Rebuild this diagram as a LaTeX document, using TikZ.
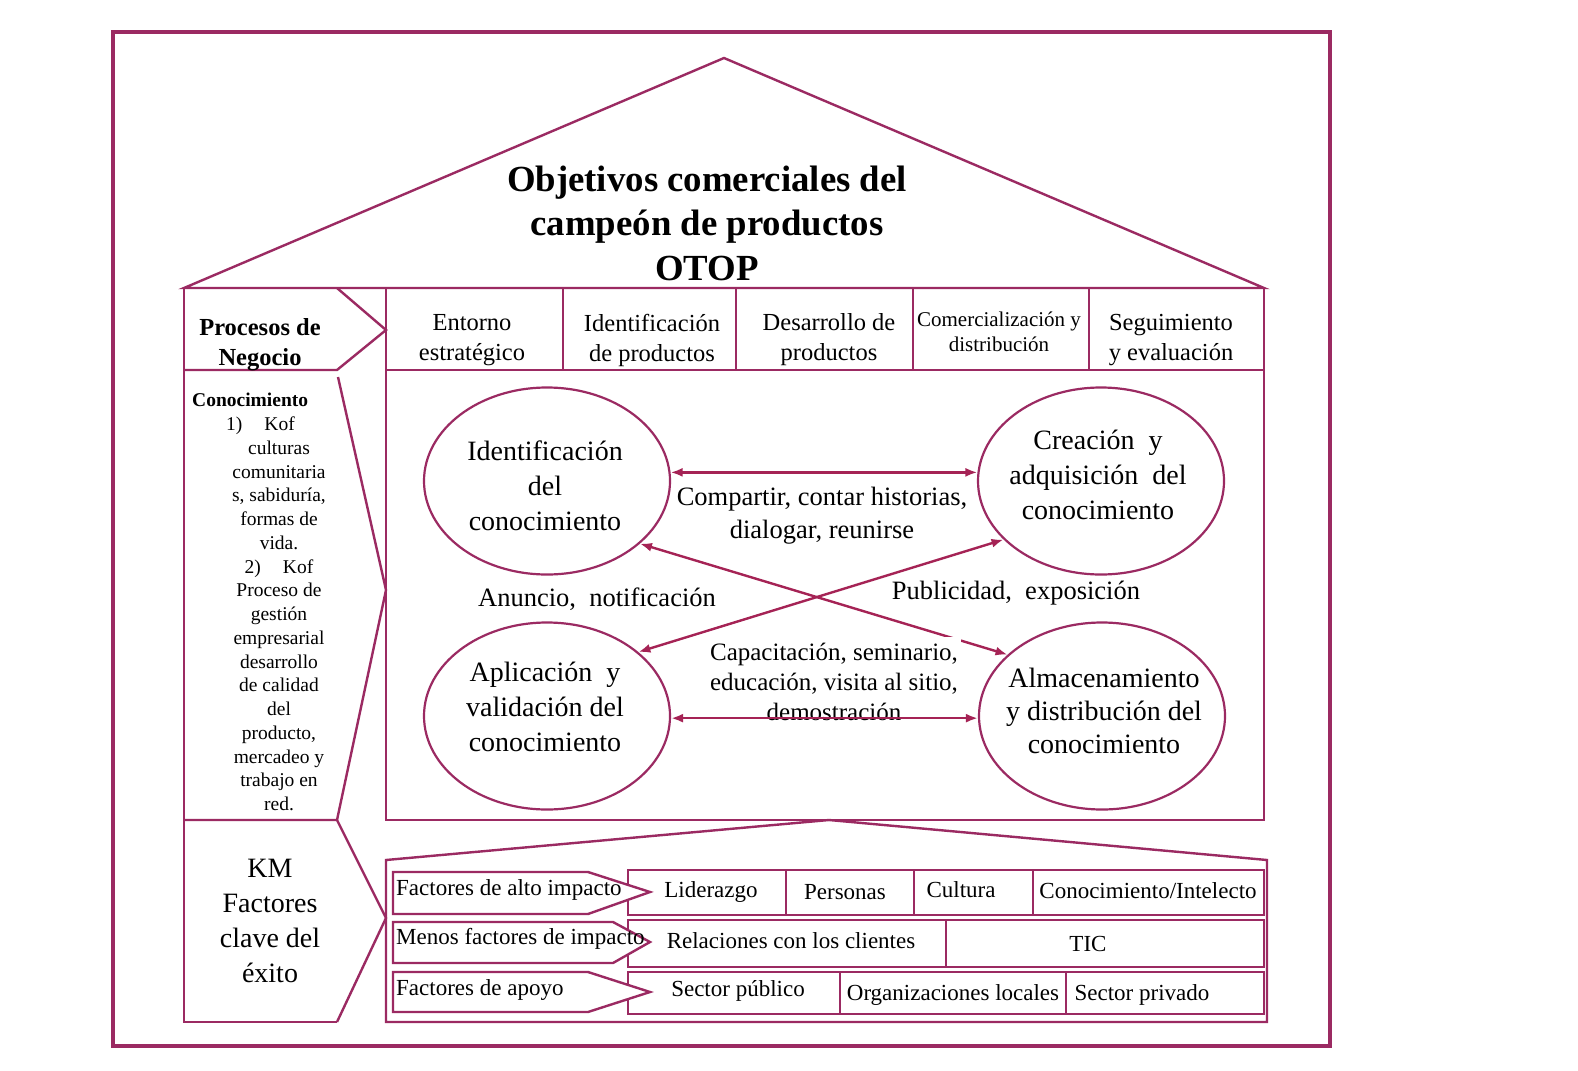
\documentclass[tikz,border=0pt]{standalone}
\usepackage{fontspec}
\setmainfont{Liberation Serif}
\usetikzlibrary{arrows.meta,shapes.geometric}
\definecolor{lc}{RGB}{155,42,98}
\definecolor{ac}{RGB}{165,35,85}
\newcommand{\fsz}[2]{\fontsize{#1}{#2}\selectfont}
\begin{document}
\begin{tikzpicture}[x=1pt,y=-1pt,
  frame/.style={draw=lc,line width=2.4pt,line join=miter},
  ell/.style={ellipse,draw=lc,line width=2.2pt,minimum width=246pt,minimum height=187pt,inner sep=0pt},
  link/.style={draw=ac,line width=2.4pt,{Latex[length=12pt,width=9pt]}-{Latex[length=12pt,width=9pt]}},
  txt/.style={inner sep=0pt,align=center},
  celltxt/.style={inner sep=0pt,align=center,font=\fsz{24.5}{30}},
  ftxt/.style={inner sep=0pt,anchor=west,font=\fsz{23}{26}},
  ctxt/.style={inner sep=0pt,font=\fsz{23}{26}},
  etxt/.style={inner sep=0pt,align=center,font=\fsz{28}{35}},
  ltxt/.style={inner sep=0pt,align=center,font=\fsz{26.5}{33}}
]
\useasboundingbox (0,0) rectangle (1578,1070);
\fill[white] (0,0) rectangle (1578,1070);
% outer frame
\draw[lc,line width=4pt] (113,32) rectangle (1330,1046);
% roof
\draw[frame] (184,288) -- (724,58) -- (1264,288) -- cycle;
% left column
\draw[frame] (184,288) -- (184,1022) -- (337,1022);
\draw[frame] (337,288) -- (386,330) -- (337,370) -- (184,370);
\draw[frame] (338,377) -- (386,590) -- (337,820) -- (184,820);
\draw[frame] (337,820) -- (386,918) -- (337,1022);
% main column
\draw[frame] (386,288) rectangle (1264,370);
\foreach \x in {563,736,913,1089} \draw[frame] (\x,288) -- (\x,370);
\draw[frame] (386,370) rectangle (1264,820);
\draw[frame] (386,860) -- (829,820) -- (1267,860) -- (1267,1022) -- (386,1022) -- cycle;
% factor rows
\draw[frame] (628,870) rectangle (1264,915);
\foreach \x in {786,914,1033} \draw[frame] (\x,870) -- (\x,915);
\draw[frame] (628,920) rectangle (1264,967);
\draw[frame] (946,920) -- (946,967);
\draw[frame] (628,972) rectangle (1264,1014);
\foreach \x in {840,1066} \draw[frame] (\x,972) -- (\x,1014);
% pentagon labels
\draw[frame,fill=white] (393,872) -- (588,872) -- (650,892) -- (588,914) -- (393,914) -- cycle;
\draw[frame,fill=white] (393,922) -- (613,922) -- (650,942) -- (613,963) -- (393,963) -- cycle;
\draw[frame,fill=white] (393,972) -- (588,972) -- (650,992) -- (588,1012) -- (393,1012) -- cycle;

% title
\node[txt,font=\bfseries\fsz{36.8}{44.5}] (title) at (707,223) {Objetivos comerciales del\\campeón de productos\\OTOP};
\node[txt,font=\bfseries\fsz{24.5}{30}] (proc) at (260,345) {Procesos de\\Negocio};
% top row
\node[celltxt] (c1) at (472,340) {Entorno\\estratégico};
\node[celltxt] (c2) at (652,340) {Identificación\\de productos};
\node[celltxt] (c3) at (829,340) {Desarrollo de\\productos};
\node[txt,font=\fsz{21}{25}] (c4) at (999,332) {Comercialización y\\distribución};
\node[celltxt] (c5) at (1171,340) {Seguimiento\\y evaluación};
% knowledge column
\node[inner sep=0pt,anchor=west,font=\bfseries\fsz{19.5}{23.75}] (kn) at (192,400) {Conocimiento};
\node[txt,font=\fsz{19.5}{23.75}] (kl) at (279,614) {1)\hspace{22pt}Kof\hspace*{37pt}\\culturas\\comunitaria\\s, sabiduría,\\formas de\\vida.\\2)\hspace{22pt}Kof\hspace*{37pt}\\Proceso de\\gestión\\empresarial\\desarrollo\\de calidad\\del\\producto,\\mercadeo y\\trabajo en\\red.};
\node[txt,font=\fsz{28}{35}] (km) at (270,921) {KM\\Factores\\clave del\\éxito};

% ellipses
\node[ell] (e1) at (547,481) {};
\node[ell] (e2) at (1101,481) {};
\node[ell] (e3) at (547,716) {};
\node[ell] (e4) at (1102,716) {};
\node[etxt] (t1) at (545,486) {Identificación\\del\\conocimiento};
\node[etxt] (t2) at (1098,475) {Creación\ \ y\\adquisición\ \ del\\conocimiento};
\node[etxt] (t3) at (545,707) {Aplicación\ \ y\\validación del\\conocimiento};
\node[etxt,font=\fsz{28}{33}] (t4) at (1104,711) {Almacenamiento\\y distribución del\\conocimiento};

% arrows
\draw[link] (e1.4) -- (e2.176);
\draw[link] (e1.-34) -- (e4.147);
\draw[link] (e3.35) -- (e2.-149);
\node[ltxt] (l1) at (822,516) {Compartir, contar historias,\\dialogar, reunirse};
\node[ltxt] (l2) at (597,599) {Anuncio,\ \ notificación};
\node[ltxt] (l3) at (1016,593) {Publicidad,\ \ exposición};
\node[txt,font=\fsz{25}{30},fill=white,inner xsep=3pt,inner ysep=6pt] (l4) at (834,682) {Capacitación, seminario,\\educación, visita al sitio,\\demostración};
\draw[link] (e3.-1) -- (e4.181);

% factor texts
\node[ftxt] (f1) at (396,890) {Factores de alto impacto};
\node[ftxt] (f2) at (396,939) {Menos factores de impacto};
\node[ftxt] (f3) at (396,990) {Factores de apoyo};
\node[ctxt] (g1) at (711,892) {Liderazgo};
\node[ctxt] (g2) at (845,892) {Personas};
\node[ctxt] (g3) at (961,890) {Cultura};
\node[ctxt] (g4) at (1148,891) {Conocimiento/Intelecto};
\node[ctxt] (h1) at (791,941) {Relaciones con los clientes};
\node[ctxt] (h2) at (1088,944) {TIC};
\node[ctxt] (k1) at (738,991) {Sector público};
\node[ctxt] (k2) at (953,995) {Organizaciones locales};
\node[ctxt] (k3) at (1142,995) {Sector privado};
\end{tikzpicture}
\end{document}
